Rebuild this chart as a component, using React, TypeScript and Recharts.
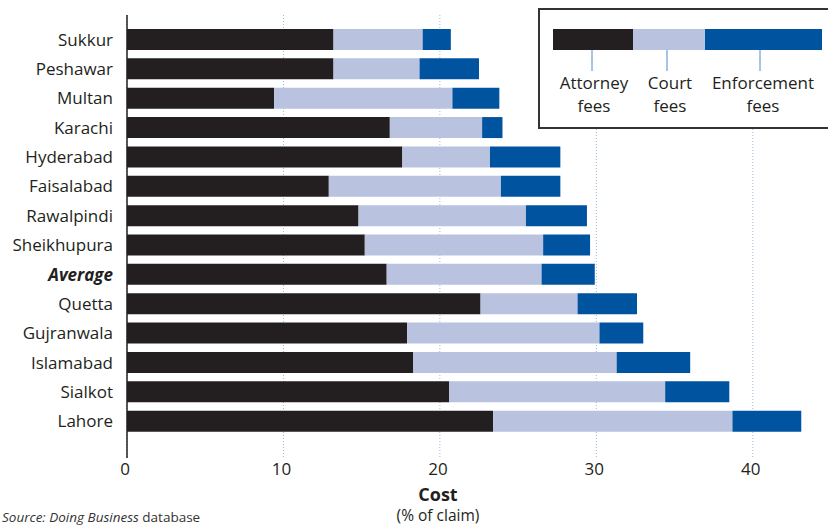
import React from "react";
import { Bar, BarChart, CartesianGrid, XAxis, YAxis } from "recharts";

const cities = [
  "Sukkur",
  "Peshawar",
  "Multan",
  "Karachi",
  "Hyderabad",
  "Faisalabad",
  "Rawalpindi",
  "Sheikhupura",
  "Average",
  "Quetta",
  "Gujranwala",
  "Islamabad",
  "Sialkot",
  "Lahore",
];
const attorneyFees = [13.2, 13.2, 9.4, 16.8, 17.6, 12.9, 14.8, 15.2, 16.6, 22.6, 17.9, 18.3, 20.6, 23.4];
const courtFees = [5.7, 5.5, 11.4, 5.9, 5.6, 11.0, 10.7, 11.4, 9.9, 6.2, 12.3, 13.0, 13.8, 15.3];
const enforcementFees = [1.8, 3.8, 3.0, 1.3, 4.5, 3.8, 3.9, 3.0, 3.4, 3.8, 2.8, 4.7, 4.1, 4.4];
const xTicks = [0, 10, 20, 30, 40];

const data = cities.map((city, i) => ({
  city,
  attorney: attorneyFees[i],
  court: courtFees[i],
  enforcement: enforcementFees[i],
}));

const FONT = "'Open Sans', sans-serif";
const BLACK = "#231f20";
const LIGHT = "#b9c3e0";
const BLUE = "#00549f";

const CityTick = (props: any) => {
  const { x, y, payload } = props;
  const avg = payload.value === "Average";
  return (
    <text
      x={x - 14}
      y={y + 6}
      textAnchor="end"
      fontFamily={FONT}
      fontSize={17}
      fill="#231f20"
      fontWeight={avg ? 700 : 400}
      fontStyle={avg ? "italic" : "normal"}
    >
      {payload.value}
    </text>
  );
};

const CostTick = (props: any) => {
  const { x, y, payload } = props;
  return (
    <text x={x - 2} y={y + 17} textAnchor="middle" fontFamily={FONT} fontSize={17} fill="#231f20">
      {payload.value}
    </text>
  );
};

const legendItems = [
  { label: ["Attorney", "fees"], x: 594, tick: 592 },
  { label: ["Court", "fees"], x: 670, tick: 667 },
  { label: ["Enforcement", "fees"], x: 763, tick: 760 },
];

export default function App() {
  return (
    <div style={{ position: "absolute", left: 0, top: 0, width: 828, height: 526, overflow: "hidden", background: "#fff" }}>
      <BarChart
        width={840}
        height={526}
        data={data}
        layout="vertical"
        margin={{ top: 15, right: 9, bottom: 0, left: 0 }}
        barCategoryGap={4}
      >
        <CartesianGrid horizontal={false} stroke="#9db9d9" strokeDasharray="1 2" />
        <XAxis
          type="number"
          domain={[0, 45]}
          ticks={xTicks}
          axisLine={false}
          tickLine={false}
          tickSize={0}
          tickMargin={0}
          height={68}
          tick={<CostTick />}
        />
        <YAxis
          type="category"
          dataKey="city"
          width={127}
          padding={{ top: 10, bottom: 22 }}
          axisLine={{ stroke: "#231f20", strokeWidth: 1.5 }}
          tickLine={false}
          tickSize={0}
          tickMargin={0}
          interval={0}
          tick={<CityTick />}
        />
        <Bar dataKey="attorney" stackId="a" fill={BLACK} barSize={21} isAnimationActive={false} />
        <Bar dataKey="court" stackId="a" fill={LIGHT} barSize={21} isAnimationActive={false} />
        <Bar dataKey="enforcement" stackId="a" fill={BLUE} barSize={21} isAnimationActive={false} />
      </BarChart>

      <div
        style={{
          position: "absolute",
          left: 538,
          top: 8,
          width: 300,
          height: 121,
          border: "2px solid #333",
          background: "#fff",
          boxSizing: "border-box",
        }}
      />
      <svg width={828} height={526} style={{ position: "absolute", left: 0, top: 0, pointerEvents: "none" }}>
        <rect x={553} y={29} width={80} height={21} fill={BLACK} />
        <rect x={633} y={29} width={72} height={21} fill={LIGHT} />
        <rect x={705} y={29} width={117} height={21} fill={BLUE} />
        {legendItems.map((it) => (
          <g key={it.label[0]}>
            <line x1={it.tick} x2={it.tick} y1={50} y2={71} stroke="#4d8cc6" strokeWidth={1} />
            <text x={it.x} y={89} textAnchor="middle" fontFamily={FONT} fontSize={17} fill="#231f20">
              {it.label[0]}
            </text>
            <text x={it.x} y={112} textAnchor="middle" fontFamily={FONT} fontSize={17} fill="#231f20">
              {it.label[1]}
            </text>
          </g>
        ))}
        <text x={438} y={501} textAnchor="middle" fontFamily={FONT} fontSize={18} fontWeight={700} fill="#231f20">
          Cost
        </text>
        <text x={438} y={521} textAnchor="middle" fontFamily={FONT} fontSize={15.5} fill="#231f20">
          (% of claim)
        </text>
        <text x={2} y={522} fontFamily={FONT} fontSize={13.5} fill="#333">
          <tspan fontStyle="italic">Source: Doing Business</tspan> database
        </text>
      </svg>
    </div>
  );
}
